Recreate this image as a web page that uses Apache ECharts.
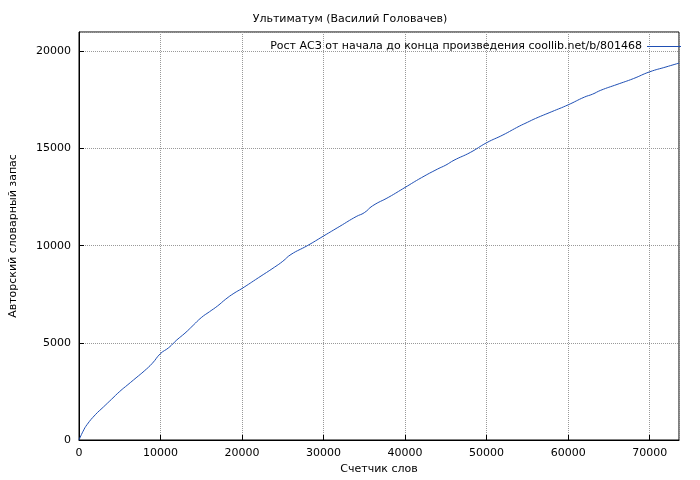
<!DOCTYPE html>
<html><head><meta charset="utf-8">
<script src="https://cdn.jsdelivr.net/npm/echarts@6/dist/echarts.min.js"></script>
<style>html,body{margin:0;background:#fff}#c{width:700px;height:480px}</style>
</head><body><div id="c"></div>
<script>
const wordsX = [0,500,1000,2000,3000,4000,5000,6000,7000,8000,9000,10000,11000,12000,13000,14000,15000,16000,17000,18000,19000,20000,22000,24000,25000,26000,28000,30000,32000,34000,35000,36000,38000,40000,42000,44000,45000,46000,48000,50000,52000,54000,55000,56000,58000,60000,62000,63000,64000,66000,68000,70000,72000,73600];
const vocabY = [0,450,800,1300,1700,2100,2500,2850,3200,3550,3950,4450,4750,5150,5500,5900,6300,6600,6900,7250,7550,7800,8350,8900,9200,9550,10000,10500,11000,11500,11700,12050,12500,13000,13500,13950,14150,14400,14800,15300,15700,16150,16350,16550,16900,17250,17650,17800,18000,18300,18600,18950,19200,19400];
const ticksX = [0,10000,20000,30000,40000,50000,60000,70000];
const data = wordsX.map((x,i)=>[x,vocabY[i]]);
const f = 'DejaVu Sans';
const ch = echarts.init(document.getElementById('c'));
ch.setOption({
  animation:false,
  title:{text:'Ультиматум (Василий Головачев)',left:'center',top:9,textStyle:{fontFamily:f,fontSize:11,fontWeight:'normal',color:'#000'}},
  legend:{top:36,right:14,align:'right',itemWidth:34,itemHeight:1,textStyle:{fontFamily:f,fontSize:11,color:'#000'},data:[{name:'Рост АСЗ от начала до конца произведения coollib.net/b/801468',icon:'rect'}]},
  grid:{left:75,right:21,top:32,bottom:40,show:true,borderColor:'#000',borderWidth:1},
  xAxis:{type:'value',min:0,max:73600,interval:10000,name:'Счетчик слов',nameLocation:'middle',nameGap:24,
    nameTextStyle:{fontFamily:f,fontSize:11,color:'#000'},
    axisLine:{lineStyle:{color:'#000'}},axisTick:{inside:true,lineStyle:{color:'#000'}},
    axisLabel:{fontFamily:f,fontSize:11,color:'#000',showMaxLabel:false,formatter:v=>String(v)},
    splitLine:{lineStyle:{type:'dotted',color:'#999'}}},
  yAxis:{type:'value',min:0,max:21000,interval:5000,name:'Авторский словарный запас',nameLocation:'middle',nameGap:60,
    nameTextStyle:{fontFamily:f,fontSize:11,color:'#000'},
    axisLine:{lineStyle:{color:'#000'}},axisTick:{inside:true,lineStyle:{color:'#000'}},
    axisLabel:{fontFamily:f,fontSize:11,color:'#000',showMaxLabel:false,formatter:v=>String(v)},
    splitLine:{lineStyle:{type:'dotted',color:'#999'}}},
  series:[{name:'Рост АСЗ от начала до конца произведения coollib.net/b/801468',type:'line',data:data,showSymbol:false,smooth:true,
    lineStyle:{color:'#1f4fb4',width:1},itemStyle:{color:'#1f4fb4'}}]
});
</script></body></html>
